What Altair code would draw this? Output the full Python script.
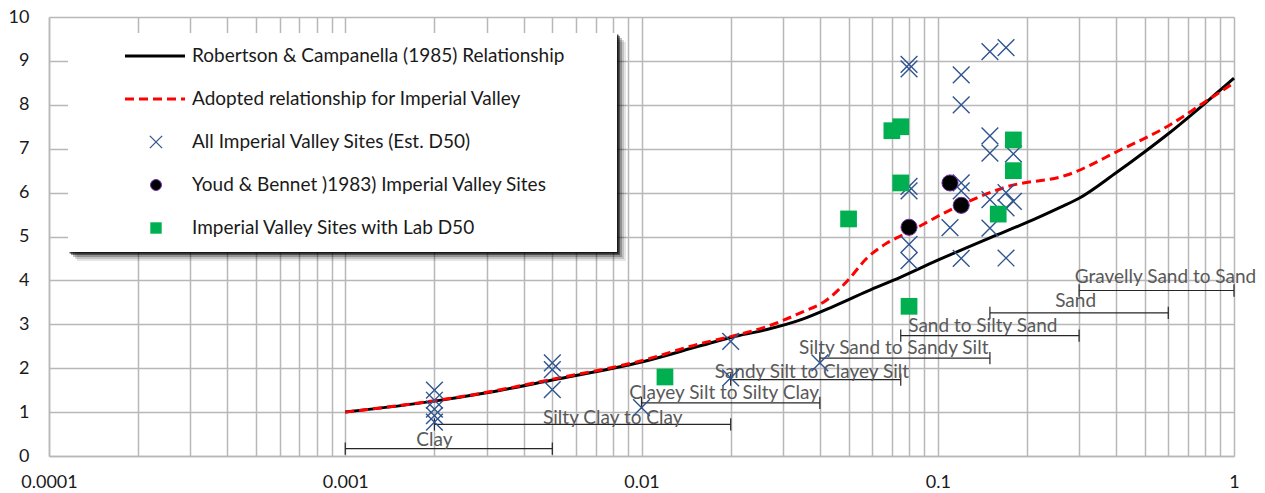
import altair as alt
import pandas as pd

# ---------------- data ----------------
RC_X = [0.001, 0.002, 0.003, 0.005, 0.01, 0.0158, 0.02, 0.0265, 0.0344, 0.0445, 0.0577, 0.0747,
        0.1, 0.15, 0.2, 0.26, 0.3, 0.4, 0.5, 0.6, 0.7, 0.8, 0.9, 1.0]
RC_Y = [1.0, 1.25, 1.44, 1.73, 2.14, 2.51, 2.7, 2.88, 3.1, 3.41, 3.75, 4.07,
        4.46, 4.97, 5.32, 5.67, 5.87, 6.45, 6.93, 7.34, 7.71, 8.04, 8.34, 8.61]

AD_X = [0.001, 0.002, 0.003, 0.005, 0.01, 0.0158, 0.02, 0.0265, 0.0344, 0.0423, 0.0494, 0.0577,
        0.0674, 0.0787, 0.11, 0.1725, 0.273, 0.413, 0.593, 0.8, 1.0]
AD_Y = [1.0, 1.26, 1.45, 1.75, 2.17, 2.56, 2.72, 2.95, 3.26, 3.56, 3.98, 4.51,
        4.85, 5.08, 5.6, 6.14, 6.4, 6.97, 7.5, 8.07, 8.5]

SITE_X = [0.002, 0.002, 0.002, 0.002, 0.002,
          0.005, 0.005, 0.005,
          0.01,
          0.02, 0.02,
          0.04,
          0.08, 0.08, 0.08, 0.08, 0.08, 0.08,
          0.11,
          0.12, 0.12, 0.12, 0.12, 0.12,
          0.15, 0.15, 0.15, 0.15, 0.15,
          0.17, 0.17, 0.17, 0.17,
          0.18, 0.18]
SITE_Y = [1.5, 1.27, 1.07, 0.92, 0.77,
          2.12, 1.97, 1.51,
          1.1,
          2.61, 1.78,
          2.12,
          8.92, 8.82, 6.14, 6.04, 4.82, 4.45,
          5.2,
          8.68, 8.0, 6.22, 6.04, 4.5,
          9.21, 7.29, 6.9, 5.84, 5.19,
          9.3, 6.0, 5.65, 4.51,
          6.88, 5.8]

YOUD_X = [0.08, 0.11, 0.12]
YOUD_Y = [5.21, 6.22, 5.71]

LAB_X = [0.012, 0.05, 0.07, 0.075, 0.075, 0.08, 0.16, 0.18, 0.18]
LAB_Y = [1.8, 5.4, 7.41, 7.5, 6.22, 3.41, 5.51, 7.2, 6.5]

SOIL_NAMES = ["Clay", "Silty Clay to Clay", "Clayey Silt to Silty Clay", "Sandy Silt to Clayey Silt",
              "Silty Sand to Sandy Silt", "Sand to Silty Sand", "Sand", "Gravelly Sand to Sand"]
SOIL_MIN = [0.001, 0.002, 0.01, 0.02, 0.04, 0.075, 0.15, 0.3]
SOIL_MAX = [0.005, 0.02, 0.04, 0.075, 0.15, 0.3, 0.6, 1.0]
SOIL_BAR_Y = [0.17, 0.72, 1.21, 1.74, 2.23, 2.74, 3.26, 3.77]
SOIL_LABEL_X = [0.002, 0.008, 0.019, 0.0376, 0.071, 0.142, 0.292, 0.587]
SOIL_LABEL_Y = [0.375, 0.876, 1.445, 1.92, 2.47, 2.95, 3.52, 4.08]
SOIL_TICK_HALF = 0.14

LEGEND_LABELS = ["Robertson & Campanella (1985) Relationship",
                 "Adopted relationship for Imperial Valley",
                 "All Imperial Valley Sites (Est. D50)",
                 "Youd & Bennet )1983) Imperial Valley Sites",
                 "Imperial Valley Sites with Lab D50"]

X_TICKS = [k * 10.0 ** e for e in range(-4, 0) for k in range(1, 10)] + [1.0]
Y_TICKS = list(range(0, 11))

# ---------------- styling ----------------
FONT = "Lato"
XPATH = "M-1,-1L1,1M-1,1L1,-1"
BLUE = "#2f5490"
GREEN = "#00b050"
GRID = "#b8b8b8"
W, H = 1185, 439

xscale = alt.Scale(type="log", domain=[0.0001, 1])
yscale = alt.Scale(domain=[0, 10])
xaxis = alt.Axis(values=X_TICKS, format="~g", ticks=False, labelPadding=17, labelFontSize=18,
                 labelColor="#1a1a1a", labelFont=FONT, labelOverlap=False, labelBound=False,
                 labelFlush=False, grid=True, gridColor=GRID, gridWidth=1.5,
                 domainColor=GRID, domainWidth=1.5,
                 labelExpr="(abs(log(datum.value)/LN10 - round(log(datum.value)/LN10)) < 0.01) ? datum.label : ''")
yaxis = alt.Axis(values=Y_TICKS, format="d", ticks=False, labelPadding=20, labelFontSize=18,
                 labelColor="#1a1a1a", labelFont=FONT, grid=True, gridColor=GRID, gridWidth=1.5,
                 domainColor=GRID, domainWidth=1.5)


def X(f):
    return alt.X(f, type="quantitative", scale=xscale, axis=xaxis, title=None)


def Y(f):
    return alt.Y(f, type="quantitative", scale=yscale, axis=yaxis, title=None)


rc = pd.DataFrame({"x": RC_X, "y": RC_Y})
ad = pd.DataFrame({"x": AD_X, "y": AD_Y})
sites = pd.DataFrame({"x": SITE_X, "y": SITE_Y})
youd = pd.DataFrame({"x": YOUD_X, "y": YOUD_Y})
lab = pd.DataFrame({"x": LAB_X, "y": LAB_Y})
soil = pd.DataFrame({"name": SOIL_NAMES, "xmin": SOIL_MIN, "xmax": SOIL_MAX, "y": SOIL_BAR_Y,
                     "lx": SOIL_LABEL_X, "ly": SOIL_LABEL_Y})
soil["ylo"] = soil["y"] - SOIL_TICK_HALF
soil["yhi"] = soil["y"] + SOIL_TICK_HALF

layers = []

# soil classification ranges
layers.append(alt.Chart(soil).mark_rule(color="#262626", strokeWidth=1.2).encode(
    x=X("xmin"), x2="xmax", y=Y("y")))
layers.append(alt.Chart(soil).mark_rule(color="#262626", strokeWidth=1.2).encode(
    x=X("xmin"), y=Y("ylo"), y2="yhi"))
layers.append(alt.Chart(soil).mark_rule(color="#262626", strokeWidth=1.2).encode(
    x=X("xmax"), y=Y("ylo"), y2="yhi"))
layers.append(alt.Chart(soil).mark_text(font=FONT, fontSize=19, color="#595959",
                                        align="center", baseline="middle").encode(
    x=X("lx"), y=Y("ly"), text="name:N"))

# curves
layers.append(alt.Chart(rc).mark_line(color="black", strokeWidth=3, interpolate="monotone").encode(
    x=X("x"), y=Y("y")))
layers.append(alt.Chart(ad).mark_line(color="#ff0000", strokeWidth=3, strokeDash=[9, 5],
                                      interpolate="monotone").encode(x=X("x"), y=Y("y")))

# points
layers.append(alt.Chart(sites).mark_point(shape=XPATH, size=280, filled=False, stroke=BLUE,
                                          strokeWidth=1.4, opacity=1).encode(x=X("x"), y=Y("y")))
layers.append(alt.Chart(lab).mark_square(size=280, color=GREEN, opacity=1).encode(x=X("x"), y=Y("y")))
layers.append(alt.Chart(youd).mark_circle(size=260, fill="black", stroke="#7030a0", strokeWidth=1,
                                          opacity=1).encode(x=X("x"), y=Y("y")))

# legend (decoration, pixel positions inside the plot area)
one = pd.DataFrame({"a": [0]})
LX1, LY1, LX2, LY2 = 19, 16, 568, 235
for d, op in [(9, 0.10), (7, 0.15), (5, 0.25), (3, 0.45), (1.5, 0.7)]:
    layers.append(alt.Chart(one).mark_rect(color="black", opacity=op).encode(
        x=alt.value(LX1 + d), x2=alt.value(LX2 + d), y=alt.value(LY1 + d), y2=alt.value(LY2 + d)))
layers.append(alt.Chart(one).mark_rect(color="white", opacity=1).encode(
    x=alt.value(LX1), x2=alt.value(LX2), y=alt.value(LY1), y2=alt.value(LY2)))

ROW0, ROWSTEP = 39, 43
layers.append(alt.Chart(one).mark_rule(color="black", strokeWidth=3).encode(
    x=alt.value(76), x2=alt.value(136), y=alt.value(ROW0)))
layers.append(alt.Chart(one).mark_rule(color="#ff0000", strokeWidth=3, strokeDash=[9, 5]).encode(
    x=alt.value(76), x2=alt.value(136), y=alt.value(ROW0 + ROWSTEP)))
layers.append(alt.Chart(one).mark_point(shape=XPATH, size=150, filled=False, stroke=BLUE,
                                        strokeWidth=1.3, opacity=1).encode(
    x=alt.value(107), y=alt.value(ROW0 + 2 * ROWSTEP)))
layers.append(alt.Chart(one).mark_circle(size=120, fill="black", stroke="#7030a0", strokeWidth=1,
                                         opacity=1).encode(
    x=alt.value(107), y=alt.value(ROW0 + 3 * ROWSTEP)))
layers.append(alt.Chart(one).mark_square(size=130, color=GREEN, opacity=1).encode(
    x=alt.value(107), y=alt.value(ROW0 + 4 * ROWSTEP)))
for i, lbl in enumerate(LEGEND_LABELS):
    layers.append(alt.Chart(one).mark_text(text=lbl, font=FONT, fontSize=19, color="#1a1a1a",
                                           align="left", baseline="middle").encode(
        x=alt.value(143), y=alt.value(ROW0 + i * ROWSTEP)))

chart = alt.layer(*layers).properties(
    width=W, height=H,
    autosize=alt.AutoSizeParams(type="none"),
    padding={"left": 41, "top": 9, "right": 23, "bottom": 37},
    background="white",
).configure_view(stroke=None)

chart.save("out.html", embed_options={"renderer": "svg", "actions": False})
